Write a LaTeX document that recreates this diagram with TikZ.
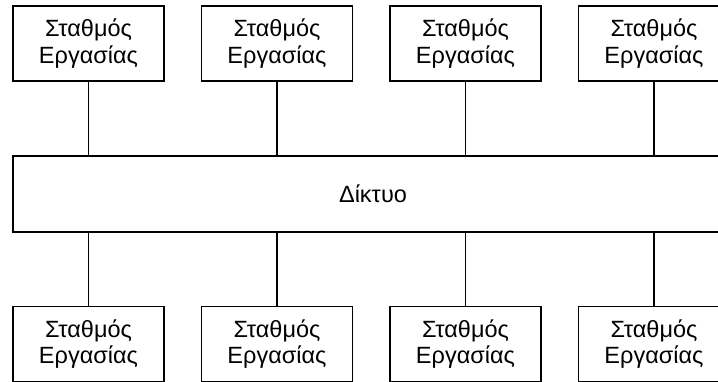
\documentclass[tikz,border=0pt]{standalone}
\usepackage{fontspec}
\setmainfont{Liberation Sans}
\tikzset{
  stathmos/.style={draw,line width=1.8pt,minimum width=151pt,minimum height=75pt,
    inner sep=0pt,align=center,font=\fontsize{23.5}{26.5}\selectfont},
  diktyo/.style={draw,line width=1.8pt,minimum width=720pt,minimum height=76pt,
    inner sep=0pt,font=\fontsize{23.5}{26.5}\selectfont},
  syndesi/.style={line width=1.8pt}
}
\begin{document}
\begin{tikzpicture}[x=1pt,y=-1pt]
    \useasboundingbox (0,0) rectangle (718,382);
    \clip (0,0) rectangle (718,382);
          % network in the middle
          \node[diktyo] (net) at (373,194) {Δίκτυο};
          % workstations above and below
          \foreach \i in {1,...,4} {
            \node[stathmos] (top\i) at ({88.5+188.5*(\i-1)},43.5) {Σταθμός\\Εργασίας};
            \node[stathmos] (bot\i) at ({88.5+188.5*(\i-1)},344) {Σταθμός\\Εργασίας};
            \draw[syndesi] (top\i.south) -- (top\i.south |- net.north);
            \draw[syndesi] (bot\i.north) -- (bot\i.north |- net.south);
          }
        \end{tikzpicture}
\end{document}
